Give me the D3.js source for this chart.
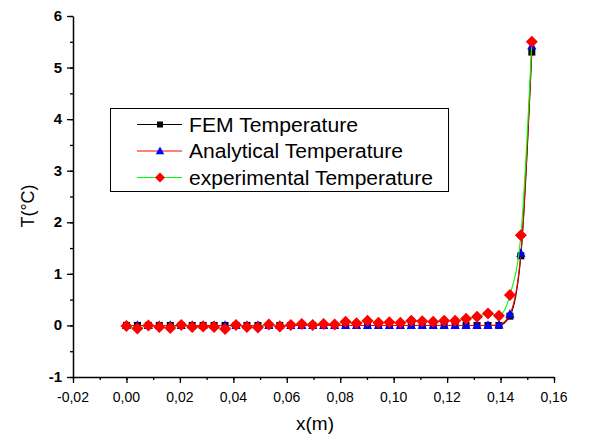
<!DOCTYPE html>
<html>
<head>
<meta charset="utf-8">
<script src="https://cdn.jsdelivr.net/npm/d3@7"></script>
<style>
  body { margin: 0; background: #fff; }
  svg { display: block; }
  text { font-family: "Liberation Sans", Arial, sans-serif; fill: #000; }
</style>
</head>
<body>
<div id="chart"></div>
<script>
'use strict'

// positions along the bar (m)
const xValues = [0, 0.0041, 0.0082, 0.0123, 0.0164, 0.0205, 0.0246, 0.0287, 0.0328, 0.0369,
  0.041, 0.0451, 0.0492, 0.0533, 0.0574, 0.0615, 0.0656, 0.0697, 0.0738, 0.0779,
  0.082, 0.0861, 0.0902, 0.0943, 0.0984, 0.1025, 0.1066, 0.1107, 0.1148, 0.1189,
  0.123, 0.1271, 0.1312, 0.1353, 0.1394, 0.1435, 0.1476, 0.1517]

const femT = [0, 0, 0, 0, 0, 0, 0, 0, 0, 0,
  0, 0, 0, 0, 0, 0, 0, 0, 0, 0,
  0, 0, 0, 0, 0, 0, 0, 0, 0, 0,
  0, 0, 0, 0, 0, 0.18, 1.35, 5.3]

const analyticalT = [0, 0, 0, 0, 0, 0, 0, 0, 0, 0,
  0, 0, 0, 0, 0, 0, 0, 0, 0, 0,
  0, 0, 0, 0, 0, 0, 0, 0, 0, 0,
  0, 0, 0, 0, 0.01, 0.22, 1.4, 5.42]

const experimentalT = [-0.01, -0.06, 0, -0.03, -0.05, 0.01, -0.03, -0.02, -0.03, -0.07,
  0.01, -0.03, -0.04, 0.02, -0.02, 0.01, 0.03, 0.01, 0.03, 0.02,
  0.07, 0.04, 0.09, 0.05, 0.06, 0.05, 0.09, 0.08, 0.07, 0.09,
  0.09, 0.13, 0.17, 0.23, 0.19, 0.59, 1.75, 5.5]

const xTicks = [-0.02, 0, 0.02, 0.04, 0.06, 0.08, 0.1, 0.12, 0.14, 0.16]
const xTickLabels = ['-0,02', '0,00', '0,02', '0,04', '0,06', '0,08', '0,10', '0,12', '0,14', '0,16']
const yTicks = [-1, 0, 1, 2, 3, 4, 5, 6]
const yTickLabels = ['-1', '0', '1', '2', '3', '4', '5', '6']
const seriesNames = ['FEM Temperature', 'Analytical Temperature', 'experimental Temperature']

const width = 593, height = 437
const margin = { top: 16, right: 39, bottom: 60, left: 73 }

const svg = d3.select('#chart').append('svg')
  .attr('width', width)
  .attr('height', height)

const x = d3.scaleLinear()
  .domain([-0.02, 0.16])
  .range([margin.left, width - margin.right])

const y = d3.scaleLinear()
  .domain([-1, 6])
  .range([height - margin.bottom, margin.top])

// minor ticks
const xMinor = d3.range(-0.02, 0.1601, 0.01)
const yMinor = d3.range(-1, 6.01, 0.5)

svg.append('g')
  .attr('transform', `translate(0,${y(-1)})`)
  .call(d3.axisBottom(x).tickValues(xMinor).tickSize(3).tickFormat(''))
  .call(g => g.select('.domain').remove())
  .call(g => g.selectAll('line').attr('stroke-width', 1.3))

svg.append('g')
  .attr('transform', `translate(${x(-0.02)},0)`)
  .call(d3.axisLeft(y).tickValues(yMinor).tickSize(3).tickFormat(''))
  .call(g => g.select('.domain').remove())
  .call(g => g.selectAll('line').attr('stroke-width', 1.3))

const gX = svg.append('g')
  .attr('transform', `translate(0,${y(-1)})`)
  .call(d3.axisBottom(x).tickValues(xTicks).tickSize(6).tickSizeOuter(0).tickFormat(''))
gX.select('.domain').attr('stroke-width', 1.5)
gX.selectAll('line').attr('stroke-width', 1.3)

const gY = svg.append('g')
  .attr('transform', `translate(${x(-0.02)},0)`)
  .call(d3.axisLeft(y).tickValues(yTicks).tickSize(6).tickSizeOuter(0).tickFormat(''))
gY.select('.domain').attr('stroke-width', 1.5)
gY.selectAll('line').attr('stroke-width', 1.3)

// tick labels
svg.append('g').selectAll('text')
  .data(xTicks)
  .join('text')
  .attr('x', d => x(d))
  .attr('y', y(-1) + 25)
  .attr('text-anchor', 'middle')
  .style('font-size', '14px')
  .text((d, i) => xTickLabels[i])

svg.append('g').selectAll('text')
  .data(yTicks)
  .join('text')
  .attr('x', x(-0.02) - 11)
  .attr('y', d => y(d) + 5)
  .attr('text-anchor', 'end')
  .style('font-size', '15px')
  .style('font-weight', 'bold')
  .text((d, i) => yTickLabels[i])

// axis titles
svg.append('text')
  .attr('x', 315)
  .attr('y', 430)
  .attr('text-anchor', 'middle')
  .style('font-size', '19px')
  .text('x(m)')

svg.append('text')
  .attr('transform', 'translate(34,206) rotate(-90)')
  .attr('text-anchor', 'middle')
  .style('font-size', '18px')
  .text('T(°C)')

/*** Series ***/

const pts = vals => xValues.map((xv, i) => [xv, vals[i]])
const line = d3.line()
  .x(d => x(d[0]))
  .y(d => y(d[1]))
  .curve(d3.curveMonotoneX)

const squarePath = r => `M${-r},${-r}H${r}V${r}H${-r}Z`
const trianglePath = r => `M0,${-r * 1.1}L${r},${r * 0.8}L${-r},${r * 0.8}Z`
const diamondPath = r => `M0,${-r}L${r},0L0,${r}L${-r},0Z`

const series = [
  { name: seriesNames[0], values: femT, line: '#000000', fill: '#000000', shape: squarePath, r: 3.5 },
  { name: seriesNames[1], values: analyticalT, line: '#ff0000', fill: '#0000ff', shape: trianglePath, r: 4.6 },
  { name: seriesNames[2], values: experimentalT, line: '#00ff00', fill: '#ff0000', shape: diamondPath, r: 6 }
]

series.forEach(s => {
  const g = svg.append('g')
  g.append('path')
    .datum(pts(s.values))
    .attr('fill', 'none')
    .attr('stroke', s.line)
    .attr('stroke-width', 1.1)
    .attr('d', line)
  g.selectAll('path.mark')
    .data(pts(s.values))
    .join('path')
    .attr('class', 'mark')
    .attr('transform', d => `translate(${x(d[0])},${y(d[1])})`)
    .attr('d', s.shape(s.r))
    .attr('fill', s.fill)
})

/*** Legend ***/

const legend = svg.append('g')
legend.append('rect')
  .attr('x', 110.5)
  .attr('y', 108.5)
  .attr('width', 338)
  .attr('height', 83)
  .attr('fill', '#fff')
  .attr('stroke', '#000')
  .attr('stroke-width', 1)

// legend text is drawn a little wide in the original
const legendTextWidth = [169, 214, 244]
const legendMarkR = [3, 4.2, 5]
series.forEach((s, i) => {
  const ly = 124.5 + i * 26.5
  legend.append('line')
    .attr('x1', 137).attr('x2', 182)
    .attr('y1', ly).attr('y2', ly)
    .attr('stroke', s.line)
    .attr('stroke-width', 1.1)
  legend.append('path')
    .attr('transform', `translate(160,${ly})`)
    .attr('d', s.shape(legendMarkR[i]))
    .attr('fill', s.fill)
  legend.append('text')
    .attr('x', 189)
    .attr('y', ly + 7)
    .attr('textLength', legendTextWidth[i])
    .attr('lengthAdjust', 'spacingAndGlyphs')
    .style('font-size', '19.5px')
    .text(s.name)
})
</script>
</body>
</html>
